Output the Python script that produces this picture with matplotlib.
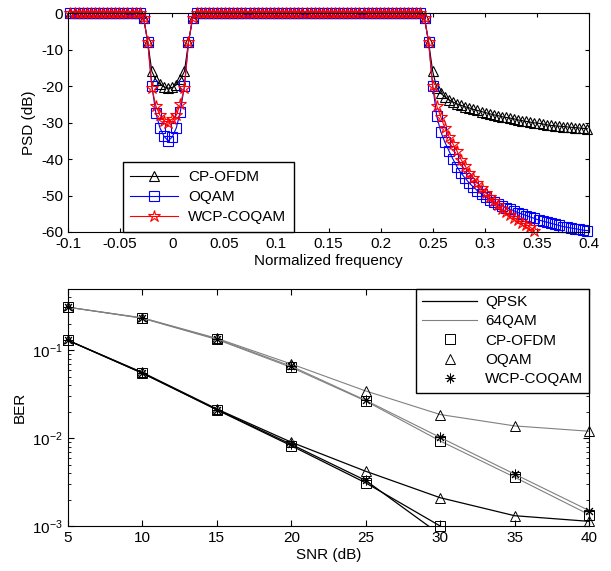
import numpy as np
import matplotlib
matplotlib.use('Agg')
import matplotlib.pyplot as plt
from matplotlib.lines import Line2D

plt.rcParams['font.family'] = ['Liberation Sans', 'DejaVu Sans']
plt.rcParams['font.size'] = 11
plt.rcParams['mathtext.fontset'] = 'custom'
plt.rcParams['mathtext.rm'] = 'Liberation Sans'

# ---- PSD data (frequency grid in units of 1/256) ----
freq_idx = np.arange(-25, 103)
freq = freq_idx / 256.0

passband_left = [0.0, 0.0, 0.0, 0.0, 0.0, 0.0, 0.0, 0.0, 0.0,
                 0.0, 0.0, 0.0, 0.0, 0.0, 0.0, 0.0, 0.0, 0.0]
passband_mid = [0.0, 0.0, 0.0, 0.0, 0.0, 0.0, 0.0, 0.0, 0.0, 0.0, 0.0, 0.0, 0.0, 0.0,
                0.0, 0.0, 0.0, 0.0, 0.0, 0.0, 0.0, 0.0, 0.0, 0.0, 0.0, 0.0, 0.0, 0.0,
                0.0, 0.0, 0.0, 0.0, 0.0, 0.0, 0.0, 0.0, 0.0, 0.0, 0.0, 0.0, 0.0, 0.0,
                0.0, 0.0, 0.0, 0.0, 0.0, 0.0, 0.0, 0.0, 0.0, 0.0, 0.0, 0.0, 0.0, 0.0]

notch_cp = [-1.5, -8, -16, -18.3, -19.5, -20.2, -20.6, -20.4, -19.7, -18.2, -16, -8, -1.5]
notch_oqam = [-1.5, -8, -20, -27.5, -31.5, -33.8, -35, -34, -31.5, -27, -20, -8, -1.5]
notch_wcp = [-1.5, -8, -20.5, -25.5, -28, -29.5, -30, -29, -28, -25, -20.5, -8, -1.5]

edge_cp = [-1.5, -8, -16.0, -20.5, -22.0, -23.0, -23.8, -24.4, -24.9, -25.3, -25.7,
           -26.0, -26.4, -26.7, -27.0, -27.3, -27.6, -27.9, -28.1, -28.4, -28.6, -28.8,
           -29.0, -29.3, -29.5, -29.7, -29.9, -30.1, -30.2, -30.4, -30.6, -30.8, -30.9,
           -31.0, -31.1, -31.2, -31.3, -31.4, -31.5, -31.6, -31.7]
edge_oqam = [-1.5, -8, -20.0, -28.3, -32.6, -35.4, -37.8, -40.1, -42.2, -43.9, -45.3,
             -46.6, -47.7, -48.7, -49.6, -50.4, -51.1, -51.7, -52.3, -52.8, -53.3, -53.8,
             -54.2, -54.7, -55.1, -55.5, -55.9, -56.3, -56.7, -57.0, -57.3, -57.6, -57.9,
             -58.2, -58.5, -58.7, -58.9, -59.1, -59.3, -59.5, -59.6]
edge_wcp = [-1.5, -8, -20.0, -25.5, -28.5, -31.5, -33.9, -35.9, -37.9, -40.2, -42.0,
            -43.8, -45.2, -46.6, -48.0, -49.2, -50.4, -51.4, -52.6, -53.7, -54.6, -55.4,
            -56.1, -56.8, -57.5, -58.0, -58.7, -59.6, np.nan, np.nan, np.nan, np.nan, np.nan,
            np.nan, np.nan, np.nan, np.nan, np.nan, np.nan, np.nan, np.nan]

psd_cp = np.array(passband_left + notch_cp + passband_mid + edge_cp)
psd_oqam = np.array(passband_left + notch_oqam + passband_mid + edge_oqam)
psd_wcp = np.array(passband_left + notch_wcp + passband_mid + edge_wcp)

# ---- BER data ----
snr = [5, 10, 15, 20, 25, 30, 35, 40]
cp_qpsk = [0.13, 0.055, 0.0210, 0.0082, 0.0031, 0.00100, np.nan, np.nan]
oqam_qpsk = [0.13, 0.056, 0.0215, 0.0090, 0.0042, 0.0021, 0.00131, 0.00113]
wcp_qpsk = [0.13, 0.055, 0.0212, 0.0085, 0.0033, 0.0008, np.nan, np.nan]
cp_64 = [0.31, 0.232, 0.133, 0.064, 0.0265, 0.0093, 0.0036, 0.00135]
oqam_64 = [0.31, 0.235, 0.137, 0.070, 0.0345, 0.0186, 0.0138, 0.0120]
wcp_64 = [0.31, 0.233, 0.135, 0.066, 0.0270, 0.0102, 0.0039, 0.0015]

fig = plt.figure(figsize=(6.11, 5.71), dpi=100)
ax1 = fig.add_axes([0.1113, 0.5937, 0.8527, 0.3835])
ax2 = fig.add_axes([0.1113, 0.0788, 0.8527, 0.4151])

mk = dict(markerfacecolor='none', markeredgewidth=0.8, linewidth=0.8, clip_on=False)
ax1.plot(freq, psd_cp, color='k', marker='^', markersize=7.5, label='CP-OFDM', **mk)
ax1.plot(freq, psd_oqam, color='b', marker='s', markersize=7.5, label='OQAM', **mk)
ax1.plot(freq, psd_wcp, color='r', marker='*', markersize=9, label='WCP-COQAM', **mk)
ax1.set_xlim(-0.1, 0.4)
ax1.set_ylim(-60, 0)
ax1.set_xticks(np.arange(-0.1, 0.401, 0.05))
ax1.set_xticklabels(['-0.1', '-0.05', '0', '0.05', '0.1', '0.15', '0.2', '0.25', '0.3', '0.35', '0.4'])
ax1.set_yticks([-60, -50, -40, -30, -20, -10, 0])
ax1.set_yticklabels(['-60', '-50', '-40', '-30', '-20', '-10', '0'])
ax1.set_xlabel('Normalized frequency', labelpad=2)
ax1.set_ylabel('PSD (dB)')
ax1.tick_params(direction='in', top=True, right=True, length=3)
leg1 = ax1.legend(loc='lower left', bbox_to_anchor=(0.105, 0.0), borderaxespad=0,
                  fancybox=False, edgecolor='k', framealpha=1, handlelength=3.1,
                  handletextpad=0.7, labelspacing=0.4, borderpad=0.5)
leg1.get_frame().set_linewidth(1.0)

gray = '0.5'
asterisk = (8, 2, 0)
for y, m, c in [(cp_qpsk, 's', 'k'), (oqam_qpsk, '^', 'k'), (wcp_qpsk, asterisk, 'k'),
                (cp_64, 's', gray), (oqam_64, '^', gray), (wcp_64, asterisk, gray)]:
    y = np.array(y)
    ax2.plot(snr, y, color=c, linewidth=0.9 if c == 'k' else 0.8)
    ym = np.where(y >= 1e-3, y, np.nan)
    ax2.plot(snr, ym, linestyle='none', marker=m, markersize=7,
             markerfacecolor='none', markeredgecolor='k', markeredgewidth=0.7, clip_on=False)
ax2.set_yscale('log')
ax2.set_xlim(5, 40)
ax2.set_ylim(1e-3, 0.5)
ax2.set_xticks(snr)
ax2.set_xlabel('SNR (dB)', labelpad=2)
ax2.set_ylabel('BER')
ax2.tick_params(which='both', direction='in', top=True, right=True)
ax2.tick_params(which='major', length=4)
ax2.tick_params(which='minor', length=2)

handles = [Line2D([], [], color='k', linewidth=0.9),
           Line2D([], [], color=gray, linewidth=0.8),
           Line2D([], [], linestyle='none', marker='s', markersize=7, markerfacecolor='none', markeredgecolor='k', markeredgewidth=0.7),
           Line2D([], [], linestyle='none', marker='^', markersize=7, markerfacecolor='none', markeredgecolor='k', markeredgewidth=0.7),
           Line2D([], [], linestyle='none', marker=asterisk, markersize=7, markerfacecolor='none', markeredgecolor='k', markeredgewidth=0.7)]
leg2 = ax2.legend(handles, ['QPSK', '64QAM', 'CP-OFDM', 'OQAM', 'WCP-COQAM'],
                  loc='upper right', borderaxespad=0, fancybox=False, edgecolor='k',
                  framealpha=1, handlelength=3.6, handletextpad=0.5,
                  labelspacing=0.35, borderpad=0.4)
leg2.get_frame().set_linewidth(1.0)

fig.savefig('out.png', dpi=100)
